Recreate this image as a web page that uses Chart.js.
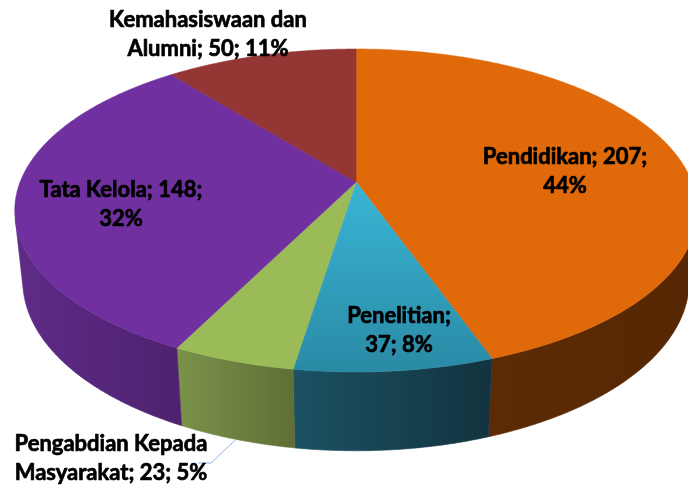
<!DOCTYPE html>
<html>
<head>
<meta charset="utf-8">
<script src="https://cdn.jsdelivr.net/npm/chart.js@4.4.1/dist/chart.umd.min.js"></script>
<style>
  html, body { margin: 0; padding: 0; background: #fff; }
  #wrap { width: 688px; height: 486px; }
</style>
</head>
<body>
<div id="wrap"><canvas id="pieChart" width="688" height="486"></canvas></div>
<script>
// data
const categories = ['Pendidikan', 'Penelitian', 'Pengabdian Kepada Masyarakat', 'Tata Kelola', 'Kemahasiswaan dan Alumni'];
const counts = [207, 37, 23, 148, 50];
const percents = [44, 8, 5, 32, 11];

// styles
const topColors = ['#E0690A', '#33A8C8', '#9BBB59', '#70309F', '#943634'];
const wallLeft = ['#5C2B05', '#1C5263', '#7A9249', '#5F2B87', '#6A2625'];
const wallRight = ['#562704', '#12333F', '#5F6F36', '#4E2270', '#5A201F'];

// label layout: words on first line, centre x, first baseline
const labelBreaks = [2, 1, 2, 3, 2];
const labelPos = [[565, 164], [399, 323], [111, 451], [121, 197], [208, 27]];
const LINE_GAP = 28.5;

// perspective of the tilted disc
const CX = 356, CY = 182;
const SIN_A = 0.474, COS_A = 0.8805;
const DIST = 4.99;
const F = 1646.7, FX = 1676;
const DEPTH = 0.245;
const T_MIN = Math.asin(1 / (DIST * COS_A));

function proj(t, h) {
  const X = Math.cos(t), Z = Math.sin(t);
  const d = DIST - Z * COS_A + h * SIN_A;
  return [CX + FX * X / d, CY + F * (Z * SIN_A + h * COS_A) / d];
}

function rim(ctx, a, b, h) {
  const n = Math.max(2, Math.ceil(Math.abs(b - a) / 0.008));
  for (let k = 0; k <= n; k++) {
    const p = proj(a + (b - a) * k / n, h);
    ctx.lineTo(p[0], p[1]);
  }
}

function topFill(ctx, i) {
  if (i !== 1) return topColors[i];
  const g = ctx.createLinearGradient(0, CY, 0, CY + 190);
  g.addColorStop(0, '#3AB5D5');
  g.addColorStop(1, '#2A8AA5');
  return g;
}

const pie3d = {
  id: 'pie3d',
  beforeDatasetsDraw(chart) {
    const ctx = chart.ctx;
    const arcs = chart.getDatasetMeta(0).data;
    ctx.save();

    // side walls facing the viewer
    arcs.forEach((arc, i) => {
      const { startAngle, endAngle } = arc.getProps(['startAngle', 'endAngle'], true);
      const a = Math.max(startAngle, T_MIN);
      const b = Math.min(endAngle, Math.PI - T_MIN);
      if (a >= b) return;
      const pa = proj(a, 0), pb = proj(b, 0);
      const g = ctx.createLinearGradient(Math.min(pa[0], pb[0]), 0, Math.max(pa[0], pb[0]), 0);
      g.addColorStop(0, wallLeft[i]);
      g.addColorStop(1, wallRight[i]);
      ctx.beginPath();
      rim(ctx, a, b, 0);
      rim(ctx, b, a, DEPTH);
      ctx.closePath();
      ctx.fillStyle = g;
      ctx.strokeStyle = g;
      ctx.lineWidth = 0.6;
      ctx.fill();
      ctx.stroke();
    });

    // top face
    arcs.forEach((arc, i) => {
      const { startAngle, endAngle } = arc.getProps(['startAngle', 'endAngle'], true);
      ctx.beginPath();
      ctx.moveTo(CX, CY);
      rim(ctx, startAngle, endAngle, 0);
      ctx.closePath();
      const fill = topFill(ctx, i);
      ctx.fillStyle = fill;
      ctx.strokeStyle = fill;
      ctx.lineWidth = 0.6;
      ctx.fill();
      ctx.stroke();
    });

    ctx.restore();
    return false;
  },
  afterDraw(chart) {
    const ctx = chart.ctx;
    const arcs = chart.getDatasetMeta(0).data;
    ctx.save();

    // leader line for the small slice
    const g = arcs[2].getProps(['startAngle', 'endAngle'], true);
    const p = proj((g.startAngle + g.endAngle) / 2, DEPTH);
    ctx.beginPath();
    ctx.moveTo(p[0], p[1]);
    ctx.lineTo(211, 463);
    ctx.lineTo(198, 463);
    ctx.strokeStyle = '#8EB4E3';
    ctx.lineWidth = 1;
    ctx.stroke();

    ctx.font = 'bold 22px Lato';
    ctx.fillStyle = '#000';
    ctx.strokeStyle = '#000';
    ctx.lineWidth = 0.7;
    ctx.lineJoin = 'round';
    ctx.textAlign = 'center';
    ctx.textBaseline = 'alphabetic';
    categories.forEach((name, i) => {
      const words = `${name}; ${counts[i]}; ${percents[i]}%`.split(' ');
      const lines = [words.slice(0, labelBreaks[i]).join(' '), words.slice(labelBreaks[i]).join(' ')];
      lines.forEach((ln, k) => {
        const y = labelPos[i][1] + k * LINE_GAP;
        ctx.fillText(ln, labelPos[i][0], y);
        ctx.strokeText(ln, labelPos[i][0], y);
      });
    });
    ctx.restore();
  }
};

new Chart(document.getElementById('pieChart'), {
  type: 'pie',
  data: {
    labels: categories,
    datasets: [{ data: counts, backgroundColor: topColors, borderWidth: 0 }]
  },
  options: {
    responsive: false,
    animation: false,
    plugins: { legend: { display: false }, tooltip: { enabled: false } }
  },
  plugins: [pie3d]
});
</script>
</body>
</html>
